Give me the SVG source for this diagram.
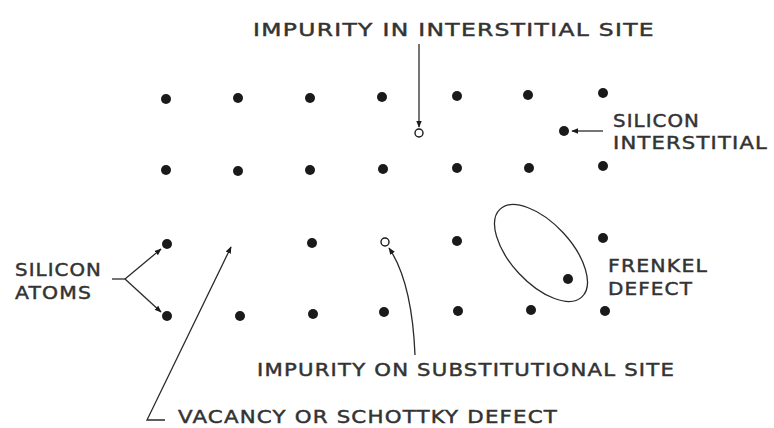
<svg xmlns="http://www.w3.org/2000/svg" width="774" height="428" viewBox="0 0 774 428">
<defs>
<style>
.dot{fill:#1a1a1a}
.open{fill:#fff;stroke:#1a1a1a;stroke-width:1.4}
.ln{fill:none;stroke:#2a2a2a;stroke-width:1.3}
.lbl{font-family:"DejaVu Sans","Liberation Sans",sans-serif;font-size:18px;fill:#333;stroke:#333;stroke-width:0.45;letter-spacing:1px}
</style>
<marker id="ah" viewBox="0 0 10 10" refX="9" refY="5" markerWidth="7" markerHeight="7" markerUnits="userSpaceOnUse" orient="auto">
<path d="M0,1 L10,5 L0,9 Z" fill="#1a1a1a"/>
</marker>
</defs>
<rect width="774" height="428" fill="#fff"/>
<g id="lattice">
<circle class="dot" cx="166" cy="99" r="5"/>
<circle class="dot" cx="238" cy="98" r="5"/>
<circle class="dot" cx="310" cy="98" r="5"/>
<circle class="dot" cx="382" cy="97" r="5"/>
<circle class="dot" cx="457" cy="96" r="5"/>
<circle class="dot" cx="528" cy="95" r="5"/>
<circle class="dot" cx="603" cy="93" r="5"/>
<circle class="dot" cx="166" cy="170" r="5"/>
<circle class="dot" cx="238" cy="171" r="5"/>
<circle class="dot" cx="310" cy="170" r="5"/>
<circle class="dot" cx="383" cy="169" r="5"/>
<circle class="dot" cx="457" cy="168" r="5"/>
<circle class="dot" cx="529" cy="168" r="5"/>
<circle class="dot" cx="603" cy="166" r="5"/>
<circle class="dot" cx="167" cy="244" r="5"/>
<circle class="dot" cx="312" cy="243" r="5"/>
<circle class="dot" cx="457" cy="241" r="5"/>
<circle class="dot" cx="603" cy="238" r="5"/>
<circle class="dot" cx="167" cy="316" r="5"/>
<circle class="dot" cx="240" cy="316" r="5"/>
<circle class="dot" cx="313" cy="314" r="5"/>
<circle class="dot" cx="384" cy="312" r="5"/>
<circle class="dot" cx="458" cy="311" r="5"/>
<circle class="dot" cx="531" cy="310" r="5"/>
<circle class="dot" cx="605" cy="311" r="5"/>
</g>
<g id="impurity-interstitial"><circle class="open" cx="419" cy="133" r="4"/></g>
<g id="silicon-interstitial"><circle class="dot" cx="564" cy="131" r="5"/></g>
<g id="impurity-substitutional"><circle class="open" cx="385" cy="242" r="4"/></g>
<g id="frenkel-defect">
<ellipse class="ln" cx="541" cy="253" rx="60" ry="30" transform="rotate(47 541 253)"/>
<circle class="dot" cx="568" cy="279" r="5"/>
</g>
<g id="connectors">
<line class="ln" x1="419" y1="44" x2="419" y2="127" marker-end="url(#ah)"/>
<line class="ln" x1="603" y1="131" x2="572" y2="131" marker-end="url(#ah)"/>
<polyline class="ln" points="112,279 125,279"/>
<line class="ln" x1="125" y1="279" x2="161" y2="249" marker-end="url(#ah)"/>
<line class="ln" x1="125" y1="279" x2="161" y2="312" marker-end="url(#ah)"/>
<polyline class="ln" points="165,420 147,420 231,247" marker-end="url(#ah)"/>
<path class="ln" d="M415,355 Q412,282 389,248" marker-end="url(#ah)"/>
</g>
<g id="labels">
<text class="lbl" x="253" y="36" textLength="402" lengthAdjust="spacingAndGlyphs">IMPURITY IN INTERSTITIAL SITE</text>
<text class="lbl" x="15" y="276" textLength="87" lengthAdjust="spacingAndGlyphs">SILICON</text>
<text class="lbl" x="15" y="299" textLength="77" lengthAdjust="spacingAndGlyphs">ATOMS</text>
<text class="lbl" x="613" y="127" textLength="87" lengthAdjust="spacingAndGlyphs">SILICON</text>
<text class="lbl" x="613" y="149" textLength="155" lengthAdjust="spacingAndGlyphs">INTERSTITIAL</text>
<text class="lbl" x="608" y="272" textLength="100" lengthAdjust="spacingAndGlyphs">FRENKEL</text>
<text class="lbl" x="608" y="295" textLength="85" lengthAdjust="spacingAndGlyphs">DEFECT</text>
<text class="lbl" x="257" y="376" textLength="418" lengthAdjust="spacingAndGlyphs">IMPURITY ON SUBSTITUTIONAL SITE</text>
<text class="lbl" x="178" y="423" textLength="380" lengthAdjust="spacingAndGlyphs">VACANCY OR SCHOTTKY DEFECT</text>
</g>
</svg>
